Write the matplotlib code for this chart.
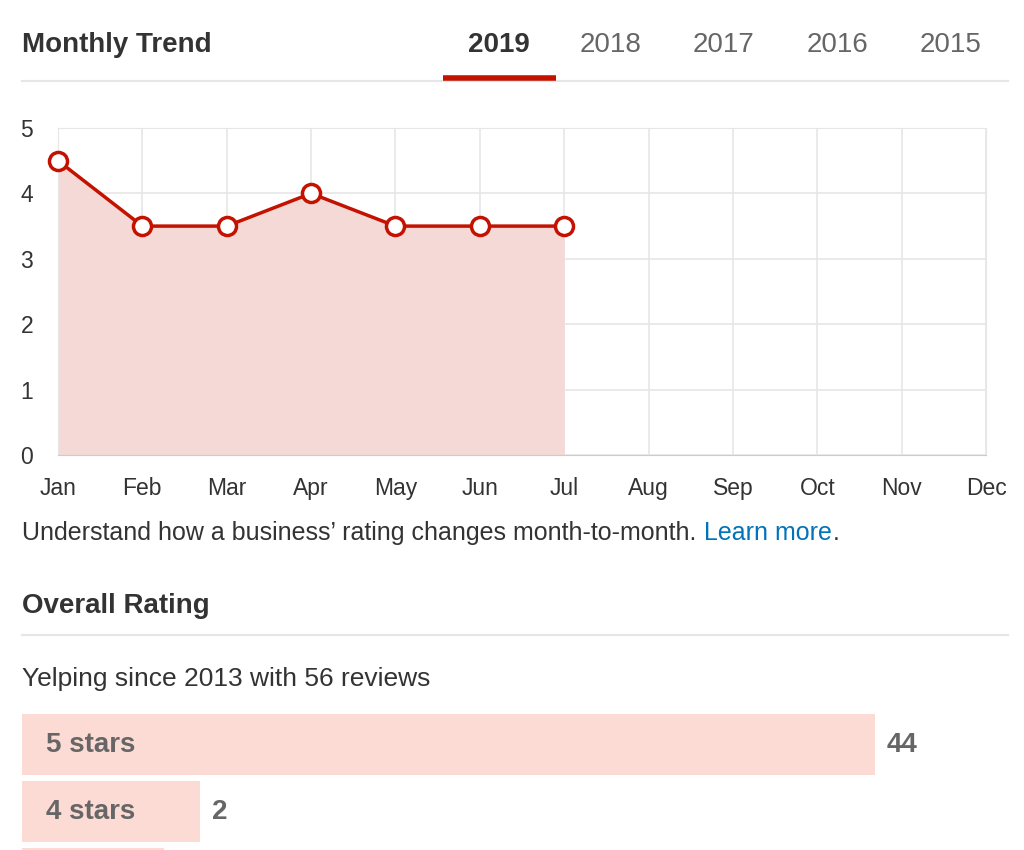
import matplotlib
matplotlib.use("Agg")
import matplotlib.pyplot as plt

months = ["Jan","Feb","Mar","Apr","May","Jun","Jul","Aug","Sep","Oct","Nov","Dec"]
ratings = [4.5, 3.5, 3.5, 4.0, 3.5, 3.5, 3.5]
years = ["2019","2018","2017","2016","2015"]
star_labels = ["5 stars","4 stars","3 stars"]
star_counts = [44, 2, None]
bar_display = [44, 9.2, 7.3]  # displayed lengths (min-width bars)

W, H = 1024, 850
fig = plt.figure(figsize=(W/100, H/100), dpi=100)
fig.patch.set_facecolor("white")
F = "Liberation Sans"
RED = "#c41200"
def px(x, y): return x/W, 1 - y/H

def ft(x, y, s, **kw):
    kw.setdefault("family", F)
    fig.text(*px(x, y), s, **kw)

ft(22, 45, "Monthly Trend", fontsize=20, weight="bold", color="#333333", va="center")
xs = [499, 611, 723, 837, 951]
for i, (x, yr) in enumerate(zip(xs, years)):
    ft(x, 45, yr, fontsize=20, weight="bold" if i == 0 else "normal",
       color="#333333" if i == 0 else "#666666", ha="center", va="center")
fig.add_artist(plt.Line2D([22/W, 1008/W], [1-81/H]*2, color="#e6e6e6", lw=1.5))
fig.add_artist(plt.Line2D([443/W, 556/W], [1-78/H]*2, color=RED, lw=4, solid_capstyle="butt"))

# line chart
l, r, t, b = 58, 986, 128, 455
ax = fig.add_axes([l/W, 1-b/H, (r-l)/W, (b-t)/H])
xi = list(range(len(ratings)))
ax.fill_between(xi, ratings, 0, color="#f5d9d6", lw=0)
ax.plot(xi, ratings, color=RED, lw=2.5, marker="o", ms=13, mfc="white", mec=RED, mew=2.5, zorder=5, clip_on=False)
ax.set_xlim(0, 11); ax.set_ylim(0, 5)
ax.set_xticks(range(12)); ax.set_xticklabels(months)
ax.set_yticks(range(6))
ax.grid(True, color="#e6e6e6", lw=1.2)
ax.set_axisbelow(True)
for s in ax.spines.values(): s.set_color("#e6e6e6")
ax.spines["bottom"].set_color("#cccccc")
ax.tick_params(length=0, labelsize=16.5, colors="#333333", pad=16)
ax.tick_params(axis="y", pad=18)
for lab in ax.get_xticklabels()+ax.get_yticklabels(): lab.set_family(F)

ft(22, 533, "Understand how a business\u2019 rating changes month-to-month.", fontsize=18,
   color="#333333", va="center")
ft(704, 533, "Learn more", fontsize=18, color="#0073bb", va="center")
ft(833, 533, ".", fontsize=18, color="#333333", va="center")

ft(22, 606, "Overall Rating", fontsize=20, weight="bold", color="#333333", va="center")
fig.add_artist(plt.Line2D([22/W, 1008/W], [1-635/H]*2, color="#e6e6e6", lw=1.5))
ft(22, 679, "Yelping since 2013 with 56 reviews", fontsize=19, color="#333333", va="center")

# bars: axes spans x 22..875 px -> 0..44, y in pixel rows
bax = fig.add_axes([22/W, 0, (875-22)/W, 1-700/H])
bax.set_xlim(0, 44); bax.set_ylim(850, 700)
bax.axis("off")
tops = [714, 781, 848]
for lab, cnt, L, tp in zip(star_labels, star_counts, bar_display, tops):
    bax.barh(tp+30.5, L, height=61, left=0, color="#fddbd5", clip_on=True)
    if cnt is None:
        continue  # row is cut off at the bottom edge; its text is not visible
    bax.text(1.24, tp+31, lab, fontsize=20, weight="bold", color="#666666", va="center", family=F)
    bax.text(L+0.6, tp+31, str(cnt), fontsize=20, weight="bold", color="#666666", va="center", family=F)

fig.savefig("out.png", dpi=100)
